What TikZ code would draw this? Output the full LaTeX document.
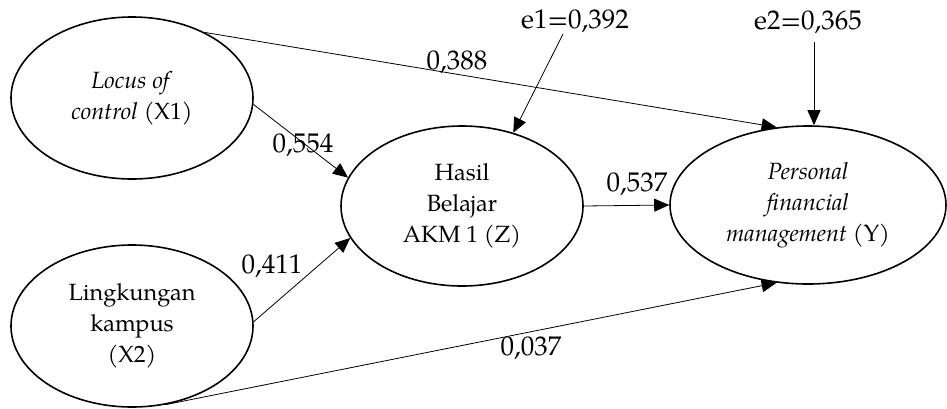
\documentclass[tikz,border=0pt]{standalone}
\usepackage{fontspec}
\setmainfont{texgyrepagella-regular.otf}[BoldFont=texgyrepagella-bold.otf,ItalicFont=texgyrepagella-italic.otf,BoldItalicFont=texgyrepagella-bolditalic.otf]
\usetikzlibrary{shapes.geometric,arrows.meta}
\begin{document}
\begin{tikzpicture}[x=1pt,y=-1pt,
  latent/.style={draw,ellipse,line width=1.6pt,inner sep=0pt,align=center,font=\fontsize{23.5}{31}\selectfont},
  pathway/.style={line width=0.8pt,-{Triangle[length=15pt,width=13pt]}},
  coef/.style={font=\fontsize{27}{30}\selectfont,inner sep=0pt}]
\useasboundingbox (0,0) rectangle (947,408);
\node[latent,minimum width=242pt,minimum height=162pt] (x1) at (132,98) {\textit{Locus of}\\\textit{control} (X1)};
\node[latent,minimum width=242pt,minimum height=162pt] (x2) at (132,326) {Lingkungan\\kampus\\(X2)};
\node[latent,minimum width=242pt,minimum height=160pt] (z) at (462,206) {Hasil\\Belajar\\AKM 1 (Z)};
\node[latent,minimum width=276pt,minimum height=158pt] (y) at (808,205) {\textit{Personal}\\\textit{financial}\\\textit{management} (Y)};
\node[coef] (e1) at (575,21) {e1=0,392};
\node[coef] (e2) at (808,22) {e2=0,365};
\coordinate (e1s) at (563,34);
\coordinate (e2s) at (814,42);
\draw[pathway] (x1.42) -- (y.112.7);
\draw[pathway] (x1.-3) -- (z.166);
\draw[pathway] (x2.2.4) -- (z.-164);
\draw[pathway] (x2.-67) -- (y.-112.7);
\draw[pathway] (z.east) -- (y.west);
\draw[pathway] (e1s) -- (z.55);
\draw[pathway] (e2s) -- (e2s |- y.north);
\node[coef] (l388) at (457,62) {0,388};
\node[coef] (l554) at (303,145) {0,554};
\node[coef] (l411) at (272,266) {0,411};
\node[coef] (l537) at (637,184) {0,537};
\node[coef] (l037) at (531,348) {0,037};
\end{tikzpicture}
\end{document}
